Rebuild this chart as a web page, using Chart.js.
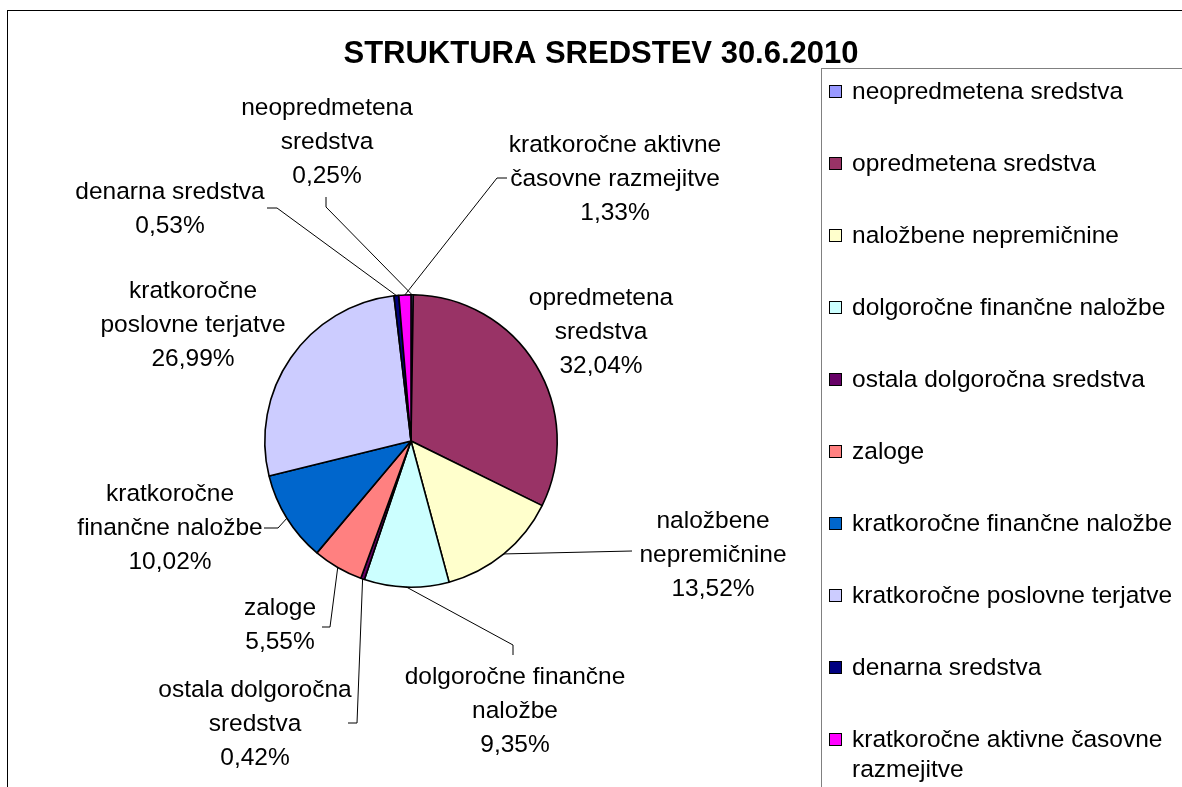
<!DOCTYPE html>
<html>
<head>
<meta charset="utf-8">
<script src="https://cdn.jsdelivr.net/npm/chart.js@4.4.0/dist/chart.umd.min.js"></script>
<style>
  html, body { margin: 0; padding: 0; background: #fff; }
  canvas { display: block; }
</style>
</head>
<body>
<canvas id="chart" width="1182" height="787"></canvas>
<script>
const chartTitle = 'STRUKTURA SREDSTEV 30.6.2010';

const categories = [
  'neopredmetena sredstva',
  'opredmetena sredstva',
  'naložbene nepremičnine',
  'dolgoročne finančne naložbe',
  'ostala dolgoročna sredstva',
  'zaloge',
  'kratkoročne finančne naložbe',
  'kratkoročne poslovne terjatve',
  'denarna sredstva',
  'kratkoročne aktivne časovne razmejitve'
];

const values = [0.25, 32.04, 13.52, 9.35, 0.42, 5.55, 10.02, 26.99, 0.53, 1.33];

const colors = ['#9999FF', '#993366', '#FFFFCC', '#CCFFFF', '#660066',
                '#FF8080', '#0066CC', '#CCCCFF', '#000080', '#FF00FF'];

// how the slice labels break into lines
const labelLines = [
  ['neopredmetena', 'sredstva'],
  ['opredmetena', 'sredstva'],
  ['naložbene', 'nepremičnine'],
  ['dolgoročne finančne', 'naložbe'],
  ['ostala dolgoročna', 'sredstva'],
  ['zaloge'],
  ['kratkoročne', 'finančne naložbe'],
  ['kratkoročne', 'poslovne terjatve'],
  ['denarna sredstva'],
  ['kratkoročne aktivne', 'časovne razmejitve']
];

// where each label sits (centre x, first line y) and the bends of its leader line
const labelPlacement = [
  { x: 327, y: 108, leader: [[326, 207], [326, 197]] },
  { x: 601, y: 298 },
  { x: 713, y: 521, leader: [[632, 551]] },
  { x: 515, y: 677, leader: [[513, 645], [513, 655]] },
  { x: 255, y: 690, leader: [[357, 723], [348, 723]] },
  { x: 280, y: 608, leader: [[330, 627], [322, 627]] },
  { x: 170, y: 494, leader: [[278, 528], [264, 528]] },
  { x: 193, y: 291 },
  { x: 170, y: 192, leader: [[277, 208], [267, 208]] },
  { x: 615, y: 145, leader: [[497, 178], [507, 178]] }
];

const FONT = '"Liberation Sans", Arial, sans-serif';
const pct = v => v.toFixed(2).replace('.', ',') + '%';

// frame, title and legend box
const framePlugin = {
  id: 'frame',
  beforeDraw(chart) {
    const ctx = chart.ctx;
    ctx.save();
    ctx.fillStyle = '#fff';
    ctx.fillRect(0, 0, chart.width, chart.height);
    ctx.strokeStyle = '#000';
    ctx.lineWidth = 1;
    ctx.strokeRect(7.5, 10.5, chart.width + 20, chart.height + 20);
    ctx.restore();
  },
  afterDraw(chart) {
    const ctx = chart.ctx;
    ctx.save();
    ctx.fillStyle = '#000';
    ctx.font = 'bold 31px ' + FONT;
    ctx.textAlign = 'center';
    ctx.textBaseline = 'middle';
    ctx.fillText(chartTitle, 601, 54);

    // legend
    ctx.strokeStyle = '#808080';
    ctx.lineWidth = 1;
    ctx.strokeRect(821.5, 68.5, 500, 800);
    ctx.font = '24.5px ' + FONT;
    ctx.textAlign = 'left';
    categories.forEach((name, i) => {
      const y = 92 + i * 72;
      ctx.fillStyle = colors[i];
      ctx.fillRect(829.5, y - 6.5, 12, 12);
      ctx.strokeStyle = '#000';
      ctx.strokeRect(829.5, y - 6.5, 12, 12);
      ctx.fillStyle = '#000';
      // simple word wrap
      const words = name.split(' ');
      let line = '', ly = y;
      words.forEach(w => {
        const test = line ? line + ' ' + w : w;
        if (ctx.measureText(test).width > 325 && line) {
          ctx.fillText(line, 852, ly);
          line = w;
          ly += 30;
        } else {
          line = test;
        }
      });
      ctx.fillText(line, 852, ly);
    });
    ctx.restore();
  }
};

// outside labels with leader lines
const pieLabels = {
  id: 'pieLabels',
  afterDatasetsDraw(chart) {
    const ctx = chart.ctx;
    const meta = chart.getDatasetMeta(0);
    ctx.save();
    meta.data.forEach((arc, i) => {
      const p = arc.getProps(['x', 'y', 'startAngle', 'endAngle', 'outerRadius'], true);
      const mid = (p.startAngle + p.endAngle) / 2;
      const pl = labelPlacement[i];
      if (pl.leader) {
        ctx.beginPath();
        ctx.strokeStyle = '#000';
        ctx.lineWidth = 1;
        ctx.moveTo(p.x + Math.cos(mid) * p.outerRadius, p.y + Math.sin(mid) * p.outerRadius);
        pl.leader.forEach(pt => ctx.lineTo(pt[0], pt[1]));
        ctx.stroke();
      }
      const lines = labelLines[i].concat([pct(values[i])]);
      ctx.fillStyle = '#000';
      ctx.font = '24.5px ' + FONT;
      ctx.textAlign = 'center';
      ctx.textBaseline = 'middle';
      lines.forEach((t, k) => ctx.fillText(t, pl.x, pl.y + k * 34));
    });
    ctx.restore();
  }
};

new Chart(document.getElementById('chart'), {
  type: 'pie',
  data: {
    labels: categories,
    datasets: [{
      data: values,
      backgroundColor: colors,
      borderColor: '#000',
      borderWidth: 1.6
    }]
  },
  options: {
    responsive: false,
    devicePixelRatio: 1,
    animation: false,
    events: [],
    layout: { padding: { left: 264, right: 624, top: 294, bottom: 199 } },
    plugins: {
      legend: { display: false },
      title: { display: false },
      tooltip: { enabled: false }
    }
  },
  plugins: [framePlugin, pieLabels]
});
</script>
</body>
</html>
